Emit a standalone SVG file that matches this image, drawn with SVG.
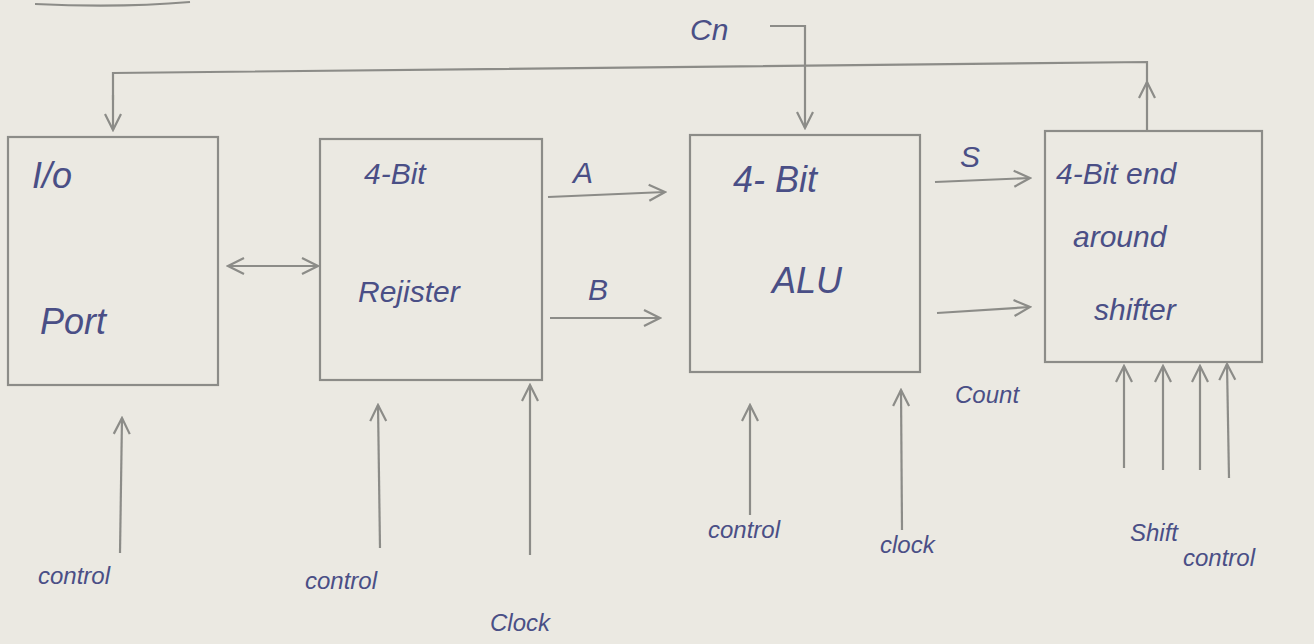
<svg xmlns="http://www.w3.org/2000/svg" width="1314" height="644" viewBox="0 0 1314 644">
<defs>
<marker id="ah" viewBox="0 0 20 20" refX="18" refY="10" markerWidth="20" markerHeight="20" markerUnits="userSpaceOnUse" orient="auto-start-reverse">
<path d="M2,2 L18,10 L2,18" fill="none" stroke="#8c8c88" stroke-width="2.2"/>
</marker>
</defs>
<style>
.bx{fill:none;stroke:#8c8c88;stroke-width:2.2}
.ln{fill:none;stroke:#8c8c88;stroke-width:2.2}
.ar{fill:none;stroke:#8c8c88;stroke-width:2.2;marker-end:url(#ah)}
.t{font-family:"Liberation Sans",Arial,sans-serif;font-style:italic;fill:#4a4f86}
.big{font-size:36px}
.mid{font-size:30px}
.sm{font-size:24px}
</style>
<rect width="1314" height="644" fill="#ebe9e2"/>
<path class="ln" d="M35,4 Q120,8 190,2" stroke-width="3"/>

<g id="io">
<rect class="bx" x="8" y="137" width="210" height="248"/>
<text class="t big" x="32" y="188">I/o</text>
<text class="t big" x="40" y="334">Port</text>
</g>
<g id="register">
<rect class="bx" x="320" y="139" width="222" height="241"/>
<text class="t mid" x="364" y="184">4-Bit</text>
<text class="t mid" x="358" y="302">Rejister</text>
</g>
<g id="alu">
<rect class="bx" x="690" y="135" width="230" height="237"/>
<text class="t big" x="733" y="192">4- Bit</text>
<text class="t big" x="772" y="293">ALU</text>
</g>
<g id="shifter">
<rect class="bx" x="1045" y="131" width="217" height="231"/>
<text class="t mid" x="1056" y="184">4-Bit  end</text>
<text class="t mid" x="1073" y="247">around</text>
<text class="t mid" x="1094" y="320">shifter</text>
</g>

<g id="connectors">
<path class="ar" d="M1147,131 L1147,82"/>
<path class="ln" d="M1147,100 L1147,62 L113,73 L113,100"/>
<path class="ar" d="M113,95 L113,130"/>
<path class="ar" d="M770,26 L805,26 L805,128"/>
<path class="ar" d="M228,266 L318,266" style="marker-start:url(#ah)"/>
<path class="ar" d="M548,197 L665,192"/>
<path class="ar" d="M550,318 L660,318"/>
<path class="ar" d="M935,182 L1030,178"/>
<path class="ar" d="M937,313 L1030,307"/>
<path class="ar" d="M120,553 L122,418"/>
<path class="ar" d="M380,548 L378,405"/>
<path class="ar" d="M530,555 L530,385"/>
<path class="ar" d="M750,515 L750,405"/>
<path class="ar" d="M902,530 L901,390"/>
<path class="ar" d="M1124,468 L1124,366"/>
<path class="ar" d="M1163,470 L1163,366"/>
<path class="ar" d="M1200,470 L1200,366"/>
<path class="ar" d="M1229,478 L1227,364"/>
</g>

<g id="labels">
<text class="t mid" x="690" y="40">Cn</text>
<text class="t mid" x="573" y="183">A</text>
<text class="t mid" x="588" y="300">B</text>
<text class="t mid" x="960" y="167">S</text>
<text class="t sm" x="955" y="403">Count</text>
<text class="t sm" x="38" y="584">control</text>
<text class="t sm" x="305" y="589">control</text>
<text class="t sm" x="490" y="631">Clock</text>
<text class="t sm" x="708" y="538">control</text>
<text class="t sm" x="880" y="553">clock</text>
<text class="t sm" x="1130" y="541">Shift</text>
<text class="t sm" x="1183" y="566">control</text>
</g>
</svg>
